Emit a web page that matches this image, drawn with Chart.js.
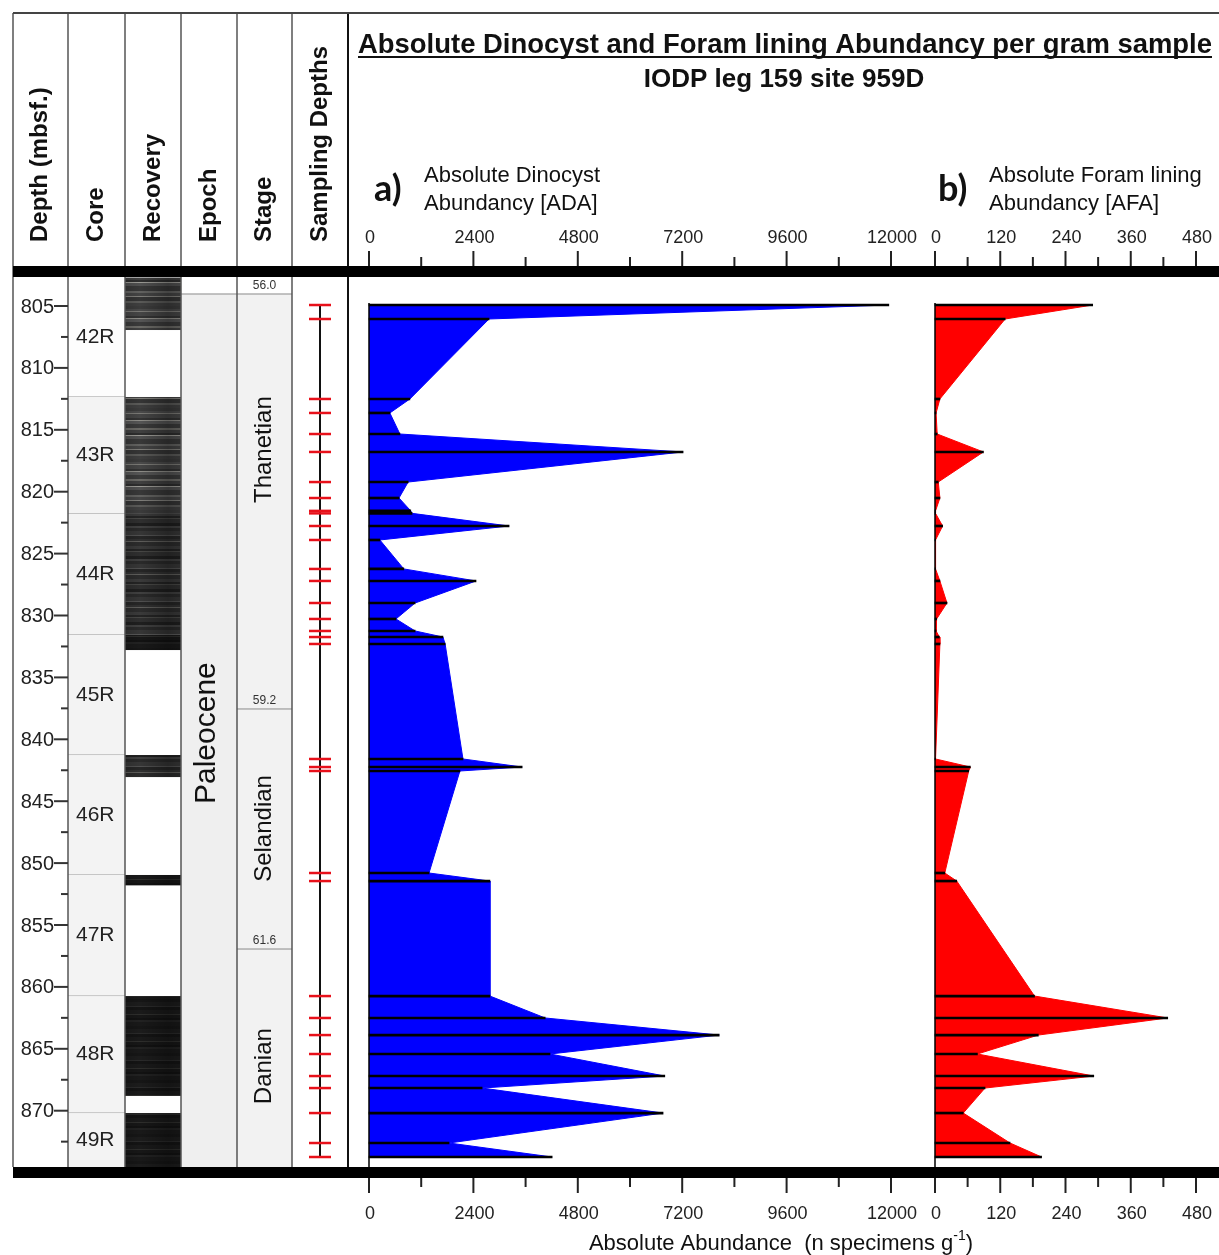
<!DOCTYPE html>
<html>
<head>
<meta charset="utf-8">
<script src="https://cdn.jsdelivr.net/npm/chart.js@4.4.1/dist/chart.umd.min.js"></script>
<style>
  html, body { margin: 0; padding: 0; background: #fff; }
  #wrap { position: relative; width: 1219px; height: 1255px; }
</style>
</head>
<body>
<div id="wrap"><canvas id="grafico" width="1219" height="1255"></canvas></div>
<script>
// Profundidades das amostras (mbsf)
const depths = [804.92, 806.05, 812.51, 813.64, 815.34, 816.79, 819.22, 820.51, 821.55, 821.75,
  822.77, 823.90, 826.24, 827.21, 828.99, 830.28, 831.25, 831.74, 832.30, 841.59,
  842.24, 842.56, 850.80, 851.45, 860.74, 862.51, 863.89, 865.42, 867.20, 868.17,
  870.19, 872.61, 873.74];
// a) Absolute Dinocyst Abundance [ADA]
const dinocysts = [11950, 2760, 940, 480, 710, 7220, 900, 690, 960, 990,
  3220, 250, 800, 2460, 1060, 620, 1060, 1700, 1750, 2160,
  3520, 2090, 1380, 2780, 2780, 4050, 8050, 4160, 6800, 2600,
  6760, 1840, 4210];
// b) Absolute Foram lining Abundance [AFA]
const foramLinings = [290, 129, 9, 2, 4, 89, 6, 9, 1, 1,
  14, 1, 1, 9, 22, 3, 2, 8, 9, 1,
  65, 62, 18, 40, 183, 428, 190, 78, 292, 92,
  52, 138, 196];

// Testemunhos
const coreNames = ['42R', '43R', '44R', '45R', '46R', '47R', '48R', '49R'];
const coreTops = [802.7, 812.35, 821.8, 831.57, 841.27, 850.96, 860.74, 870.19];
const coreBottoms = [812.35, 821.8, 831.57, 841.27, 850.96, 860.74, 870.19, 879.9];
const recoveryBottoms = [806.94, 821.8, 831.57, 832.79, 843.05, 851.8, 868.81, 879.9];

// Estratigrafia
const stageBoundaries = [804.03, 837.55, 856.94];
const stageAges = ['56.0', '59.2', '61.6'];
const stageNames = ['Thanetian', 'Selandian', 'Danian'];
const stageLabelDepths = [816.6, 847.2, 866.4];
const epochName = 'Paleocene';
const epochLabelDepth = 839.5;

// Ticks
const depthLabels = [805, 810, 815, 820, 825, 830, 835, 840, 845, 850, 855, 860, 865, 870];
const depthMinor = [802.5, 807.5, 812.5, 817.5, 822.5, 827.5, 832.5, 837.5, 842.5, 847.5, 852.5, 857.5, 862.5, 867.5, 872.5];
const adaLabels = [0, 2400, 4800, 7200, 9600, 12000];
const adaMinor = [1200, 3600, 6000, 8400, 10800];
const afaLabels = [0, 120, 240, 360, 480];
const afaMinor = [60, 180, 300, 420];

// Layout (pixels)
const W = 1219, H = 1255;
const COLS = [13, 68, 125, 181, 237, 292, 348];
const AREA = { left: 13, right: 1219, top: 277, bottom: 1167 };
const Y805 = 306, PX_PER_M = 12.38;
const PANEL_A = { zero: 369, end: 891, max: 12000 };
const PANEL_B = { zero: 935, end: 1196, max: 480 };
const FONTE = '"Liberation Sans", Arial, sans-serif';

function limites(p) {
  const k = p.max / (p.end - p.zero);
  return { min: (AREA.left - p.zero) * k, max: (AREA.right - p.zero) * k };
}
const limA = limites(PANEL_A), limB = limites(PANEL_B);
const depthMin = 805 - (Y805 - AREA.top) / PX_PER_M;
const depthMax = 805 + (AREA.bottom - Y805) / PX_PER_M;

const ctx = document.getElementById('grafico').getContext('2d');

// Textura da coluna de recuperação: faixas [cor, altura]
function criarPadrao(faixas) {
  const altura = faixas.reduce((s, f) => s + f[1], 0);
  const c = document.createElement('canvas');
  c.width = 56; c.height = altura;
  const g = c.getContext('2d');
  let y = 0;
  faixas.forEach(([cor, h]) => { g.fillStyle = cor; g.fillRect(0, y, 56, h); y += h; });
  const grad = g.createLinearGradient(0, 0, 56, 0);
  grad.addColorStop(0, 'rgba(0,0,0,0.3)');
  grad.addColorStop(0.5, 'rgba(0,0,0,0)');
  grad.addColorStop(1, 'rgba(0,0,0,0.3)');
  g.fillStyle = grad; g.fillRect(0, 0, 56, altura);
  return ctx.createPattern(c, 'repeat');
}
const texturas = {
  claro: criarPadrao([['#3b3b3b', 3], ['#4a4a4a', 2], ['#7a7975', 1], ['#454545', 4], ['#333', 2], ['#8e8d88', 1],
    ['#555', 3], ['#3a3a3a', 4], ['#6b6a66', 2], ['#404040', 3], ['#2e2e2e', 2], ['#9a9994', 1], ['#505050', 3],
    ['#383838', 5], ['#626260', 2], ['#444', 3], ['#7f7e7a', 1], ['#353535', 4], ['#5a5a58', 2], ['#3f3f3f', 3]]),
  medio: criarPadrao([['#2a2a2a', 3], ['#363636', 4], ['#505050', 1], ['#262626', 3], ['#313131', 2], ['#5e5d5a', 1],
    ['#2c2c2c', 4], ['#3a3a3a', 3], ['#242424', 2], ['#474745', 1], ['#2f2f2f', 4], ['#1f1f1f', 3], ['#404040', 2]]),
  escuro: criarPadrao([['#161616', 3], ['#1c1c1c', 4], ['#2a2a2a', 1], ['#141414', 3], ['#1a1a1a', 4], ['#2e2e2c', 1],
    ['#171717', 3], ['#121212', 2], ['#222', 2], ['#191919', 4]])
};
const texturaCore = { '42R': 'claro', '43R': 'claro', '44R': 'medio', '45R': 'escuro',
  '46R': 'medio', '47R': 'escuro', '48R': 'escuro', '49R': 'escuro' };

function linha(c, x1, y1, x2, y2, cor, largura) {
  c.beginPath(); c.moveTo(x1, y1); c.lineTo(x2, y2);
  c.strokeStyle = cor; c.lineWidth = largura; c.stroke();
}
function textoVertical(c, txt, x, y, font, align) {
  c.save(); c.translate(x, y); c.rotate(-Math.PI / 2);
  c.font = font; c.textAlign = align; c.textBaseline = 'middle'; c.fillStyle = '#111';
  c.fillText(txt, 0, 0); c.restore();
}

const moldura = {
  id: 'moldura',
  beforeDatasetsDraw(chart) {
    const c = chart.ctx, ys = chart.scales.y;
    const py = d => Math.min(Math.max(ys.getPixelForValue(d), AREA.top), AREA.bottom);
    c.save();
    // Core
    coreNames.forEach((nome, i) => {
      const t = py(coreTops[i]), b = py(coreBottoms[i]);
      c.fillStyle = i === 0 ? '#fdfdfd' : '#f3f3f3';
      c.fillRect(COLS[1], t, COLS[2] - COLS[1], b - t);
      if (b < AREA.bottom) linha(c, COLS[1], b, COLS[2], b, '#9a9a9a', 1);
      c.font = '21px ' + FONTE; c.fillStyle = '#222'; c.textAlign = 'left'; c.textBaseline = 'middle';
      c.fillText(nome, 76, (t + b) / 2);
      // Recovery
      const rb = py(recoveryBottoms[i]);
      c.fillStyle = texturas[texturaCore[nome]];
      c.fillRect(COLS[2], t, COLS[3] - COLS[2], rb - t);
    });
    // Epoch e Stage
    const topo = py(stageBoundaries[0]);
    c.fillStyle = '#efefef'; c.fillRect(COLS[3], topo, COLS[4] - COLS[3], AREA.bottom - topo);
    c.fillStyle = '#f2f2f2'; c.fillRect(COLS[4], topo, COLS[5] - COLS[4], AREA.bottom - topo);
    linha(c, COLS[3], topo, COLS[5], topo, '#8a8a8a', 1);
    stageBoundaries.forEach((b, i) => {
      const yb = py(b);
      if (i > 0) linha(c, COLS[4], yb, COLS[5], yb, '#8a8a8a', 1);
      c.font = '12px ' + FONTE; c.fillStyle = '#333'; c.textAlign = 'center'; c.textBaseline = 'bottom';
      c.fillText(stageAges[i], (COLS[4] + COLS[5]) / 2, yb - 2);
    });
    stageNames.forEach((s, i) => textoVertical(c, s, (COLS[4] + COLS[5]) / 2, py(stageLabelDepths[i]), '24px ' + FONTE, 'center'));
    textoVertical(c, epochName, (COLS[3] + COLS[4]) / 2 - 2, py(epochLabelDepth), '30px ' + FONTE, 'center');
    // Sampling Depths
    const xs = (COLS[5] + COLS[6]) / 2;
    linha(c, xs, py(depths[0]), xs, py(depths[depths.length - 1]), '#111', 2);
    depths.forEach(d => linha(c, xs - 11, py(d), xs + 11, py(d), '#e8101a', 2.5));
    c.restore();
  },
  afterDatasetsDraw(chart) {
    const c = chart.ctx, ys = chart.scales.y, xa = chart.scales.xa, xb = chart.scales.xb;
    c.save();
    // linhas de base dos painéis
    const yTopo = ys.getPixelForValue(depths[0]) - 2;
    linha(c, xa.getPixelForValue(0), yTopo, xa.getPixelForValue(0), AREA.bottom, '#000', 1.5);
    linha(c, xb.getPixelForValue(0), yTopo, xb.getPixelForValue(0), AREA.bottom, '#000', 1.5);

    // separadores de colunas e moldura
    COLS.forEach((x, i) => linha(c, x, 13, x, AREA.bottom, i === COLS.length - 1 ? '#111' : '#555', i === COLS.length - 1 ? 2 : 1.5));
    linha(c, 13, 13, W, 13, '#444', 2);
    c.fillStyle = '#000';
    c.fillRect(13, 266, W - 13, 11);
    c.fillRect(13, 1167, W - 13, 11);

    // eixo de profundidade
    c.font = '20px ' + FONTE; c.fillStyle = '#222'; c.textAlign = 'right'; c.textBaseline = 'middle';
    depthLabels.forEach(d => {
      const y = ys.getPixelForValue(d);
      linha(c, 54, y, COLS[1], y, '#333', 2);
      c.fillText(String(d), 54, y + 1);
    });
    depthMinor.forEach(d => {
      const y = ys.getPixelForValue(d);
      if (y > AREA.top && y < AREA.bottom) linha(c, 61, y, COLS[1], y, '#333', 2);
    });

    // eixos x (topo e base)
    function eixo(scale, labels, minor) {
      c.font = '18px ' + FONTE; c.fillStyle = '#222'; c.textAlign = 'center'; c.textBaseline = 'alphabetic';
      labels.forEach(v => {
        const x = scale.getPixelForValue(v);
        linha(c, x, 251, x, 266, '#222', 2);
        linha(c, x, 1178, x, 1193, '#222', 2);
        c.fillText(String(v), x + 1, 243);
        c.fillText(String(v), x + 1, 1219);
      });
      minor.forEach(v => {
        const x = scale.getPixelForValue(v);
        linha(c, x, 257, x, 266, '#222', 2);
        linha(c, x, 1178, x, 1187, '#222', 2);
      });
    }
    eixo(xa, adaLabels, adaMinor);
    eixo(xb, afaLabels, afaMinor);

    // títulos das colunas
    const cabecalhos = ['Depth (mbsf.)', 'Core', 'Recovery', 'Epoch', 'Stage', 'Sampling Depths'];
    cabecalhos.forEach((h, i) => textoVertical(c, h, (COLS[i] + COLS[i + 1]) / 2, 242, 'bold 24px ' + FONTE, 'left'));

    // título principal
    const cx = 785;
    c.fillStyle = '#111'; c.textAlign = 'center'; c.textBaseline = 'alphabetic';
    c.font = 'bold 28px ' + FONTE;
    const titulo = 'Absolute Dinocyst and Foram lining Abundancy per gram sample';
    const wT = Math.min(c.measureText(titulo).width, 854);
    c.fillText(titulo, cx, 53, 854);
    c.fillRect(cx - wT / 2, 56, wT, 2);
    c.font = 'bold 26px ' + FONTE;
    c.fillText('IODP leg 159 site 959D', 784, 87, 293);

    // rótulos dos painéis
    c.textAlign = 'left';
    c.font = 'bold 36px Lato, "Open Sans", sans-serif';
    c.fillText('a)', 374, 201);
    c.fillText('b)', 938, 201);
    c.font = '22px ' + FONTE;
    c.fillText('Absolute Dinocyst', 424, 182, 184);
    c.fillText('Abundancy [ADA]', 424, 210, 182);
    c.fillText('Absolute Foram lining', 989, 182, 222);
    c.fillText('Abundancy [AFA]', 989, 210, 179);

    // título do eixo inferior
    c.font = '22px ' + FONTE;
    const p1 = 'Absolute Abundance  (n specimens g', p3 = ')';
    const w1 = c.measureText(p1).width, w3 = c.measureText(p3).width;
    c.font = '14px ' + FONTE;
    const w2 = c.measureText('-1').width;
    const x0 = 781 - (w1 + w2 + w3) / 2;
    c.font = '22px ' + FONTE;
    c.fillText(p1, x0, 1250);
    c.fillText(p3, x0 + w1 + w2, 1250);
    c.font = '14px ' + FONTE;
    c.fillText('-1', x0 + w1, 1240);
    c.restore();
  }
};

const pontosA = depths.map((d, i) => ({ x: dinocysts[i], y: d }));
const pontosB = depths.map((d, i) => ({ x: foramLinings[i], y: d }));

new Chart(ctx, {
  type: 'line',
  data: {
    datasets: [
      { type: 'line', data: pontosA, xAxisID: 'xa', yAxisID: 'y', borderColor: '#0000ff', borderWidth: 1,
        backgroundColor: '#0000ff', fill: 'origin', pointRadius: 0, tension: 0, order: 2 },
      { type: 'bar', data: pontosA.map(p => ({ ...p })), xAxisID: 'xa', yAxisID: 'y', backgroundColor: '#000',
        barThickness: 2, grouped: false, order: 1 },
      { type: 'line', data: pontosB, xAxisID: 'xb', yAxisID: 'y', borderColor: '#ff0000', borderWidth: 1,
        backgroundColor: '#ff0000', fill: 'origin', pointRadius: 0, tension: 0, order: 2 },
      { type: 'bar', data: pontosB.map(p => ({ ...p })), xAxisID: 'xb', yAxisID: 'y', backgroundColor: '#000',
        barThickness: 2, grouped: false, order: 1 }
    ]
  },
  options: {
    indexAxis: 'y',
    responsive: false,
    animation: false,
    devicePixelRatio: 1,
    events: [],
    layout: { padding: { left: AREA.left, right: W - AREA.right, top: AREA.top, bottom: H - AREA.bottom } },
    plugins: { legend: { display: false }, tooltip: { enabled: false } },
    scales: {
      y: { type: 'linear', reverse: true, min: depthMin, max: depthMax, offset: false, display: false },
      xa: { type: 'linear', axis: 'x', min: limA.min, max: limA.max, display: false },
      xb: { type: 'linear', axis: 'x', min: limB.min, max: limB.max, display: false }
    }
  },
  plugins: [moldura]
});
</script>
</body>
</html>
